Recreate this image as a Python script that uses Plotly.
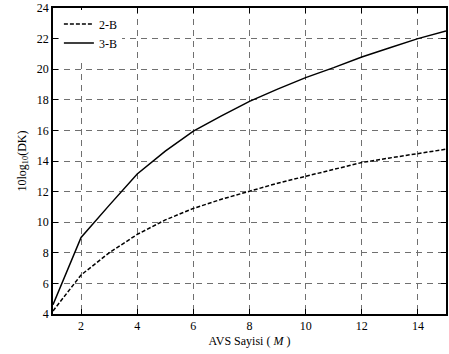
import plotly.graph_objects as go

M = list(range(1, 16))
b2 = [4.2, 6.55, 8.0, 9.2, 10.15, 10.9, 11.5, 12.05, 12.55, 13.0, 13.45, 13.9, 14.2, 14.5, 14.77]
b3 = [4.6, 9.0, 11.1, 13.15, 14.65, 15.95, 16.95, 17.9, 18.7, 19.45, 20.1, 20.8, 21.4, 22.0, 22.5]
xticks = [2, 4, 6, 8, 10, 12, 14]
yticks = [4, 6, 8, 10, 12, 14, 16, 18, 20, 22, 24]

fig = go.Figure()
fig.add_trace(go.Scatter(x=M, y=b2, mode="lines", name="2-B",
                         line=dict(color="black", width=1.5, dash="4px,2px")))
fig.add_trace(go.Scatter(x=M, y=b3, mode="lines", name="3-B",
                         line=dict(color="black", width=1.5)))

font = dict(family="Liberation Serif", size=12, color="black")
axis_common = dict(showline=True, linecolor="black", linewidth=1.5, mirror="ticks",
                   ticks="inside", ticklen=5, tickcolor="black",
                   showgrid=True, gridcolor="#707070", gridwidth=1, griddash="6px,5px",
                   zeroline=False, tickfont=font, ticklabeloverflow="allow")
fig.update_xaxes(range=[1, 15], tickvals=xticks,
                 title=dict(text="AVS Sayisi ( <i>M</i> )", font=font, standoff=4),
                 **axis_common)
fig.update_yaxes(range=[4, 24], tickvals=yticks,
                 title=dict(text="10log<sub>10</sub>(DK)", font=font, standoff=8),
                 **axis_common)
fig.update_layout(width=449, height=354, margin=dict(l=53, r=1, t=4, b=40),
                  plot_bgcolor="white", paper_bgcolor="white", font=font,
                  showlegend=True,
                  legend=dict(x=0.015, y=0.995, xanchor="left", yanchor="top",
                              bgcolor="rgba(255,255,255,1)", borderwidth=0,
                              font=font, tracegroupgap=0, itemwidth=30))
fig.write_html("out.html", config={"displayModeBar": False},
               post_script="document.body.style.margin='0';document.body.style.overflow='hidden';")
